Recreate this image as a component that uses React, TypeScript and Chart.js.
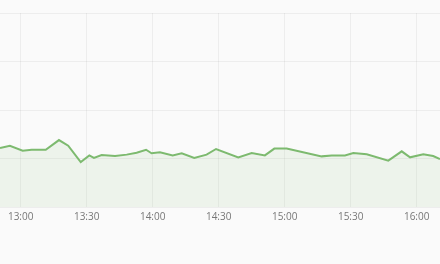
import React, { useEffect, useRef } from "react";
import { Chart, registerables } from "chart.js";

Chart.register(...registerables);

// minutes since midnight
const times = [770.6, 775.1, 780.9, 785.0, 791.4, 797.4, 801.6, 807.3, 811.2, 813.3, 816.8, 822.9, 828.2, 832.7, 837.0, 839.5, 843.3, 849.1, 853.2, 858.9, 864.5, 868.8, 878.9, 885.0, 891.0, 895.3, 900.9, 916.8, 921.4, 927.4, 931.2, 937.3, 947.1, 953.2, 957.0, 963.0, 967.5, 970.6];
const values = [30.4, 31.6, 29.0, 29.5, 29.5, 34.5, 31.6, 23.2, 26.6, 25.3, 26.8, 26.3, 27.0, 28.0, 29.5, 27.7, 28.2, 26.6, 27.7, 25.3, 27.0, 29.9, 25.6, 27.8, 26.6, 30.1, 30.1, 26.1, 26.6, 26.6, 27.8, 27.2, 23.9, 28.7, 25.6, 27.2, 26.3, 24.7];
const tickTimes = [780, 810, 840, 870, 900, 930, 960];

const fmt = (m: number) => {
  const h = Math.floor(m / 60);
  const mm = Math.round(m - h * 60);
  return `${h}:${mm < 10 ? "0" : ""}${mm}`;
};

export default function App() {
  const ref = useRef<HTMLCanvasElement>(null);
  useEffect(() => {
    if (!ref.current) return;
    const chart = new Chart(ref.current, {
      type: "line",
      data: {
        datasets: [
          {
            data: times.map((t, i) => ({ x: t, y: values[i] })),
            borderColor: "#7dba6f",
            backgroundColor: "rgba(125,186,111,0.10)",
            borderWidth: 2,
            fill: "start",
            pointRadius: 0,
            tension: 0,
          },
        ],
      },
      options: {
        animation: false,
        responsive: false,
        maintainAspectRatio: false,
        layout: { padding: { top: 13, left: 0, right: 0, bottom: 0 } },
        plugins: { legend: { display: false }, tooltip: { enabled: false } },
        scales: {
          x: {
            type: "linear",
            min: 770.6,
            max: 970.6,
            afterBuildTicks: (s: any) => {
              s.ticks = tickTimes.map((v) => ({ value: v }));
            },
            afterFit: (s: any) => {
              s.height = 57;
            },
            grid: { color: "rgba(0,0,0,0.05)", drawTicks: false },
            border: { display: false },
            ticks: {
              padding: 4,
              color: "#777",
              font: { family: "'Open Sans'", size: 10 },
              callback: (v: any) => fmt(Number(v)),
              maxRotation: 0,
              autoSkip: false,
            },
          },
          y: {
            min: 0,
            max: 100,
            ticks: { stepSize: 25, display: false },
            grid: { color: "rgba(0,0,0,0.05)", drawTicks: false },
            border: { display: false },
          },
        },
      },
    });
    return () => chart.destroy();
  }, []);
  return (
    <div style={{ position: "fixed", left: 0, top: 0, width: 440, height: 264, background: "#fafafa" }}>
      <canvas ref={ref} width={440} height={264} style={{ display: "block" }} />
    </div>
  );
}
